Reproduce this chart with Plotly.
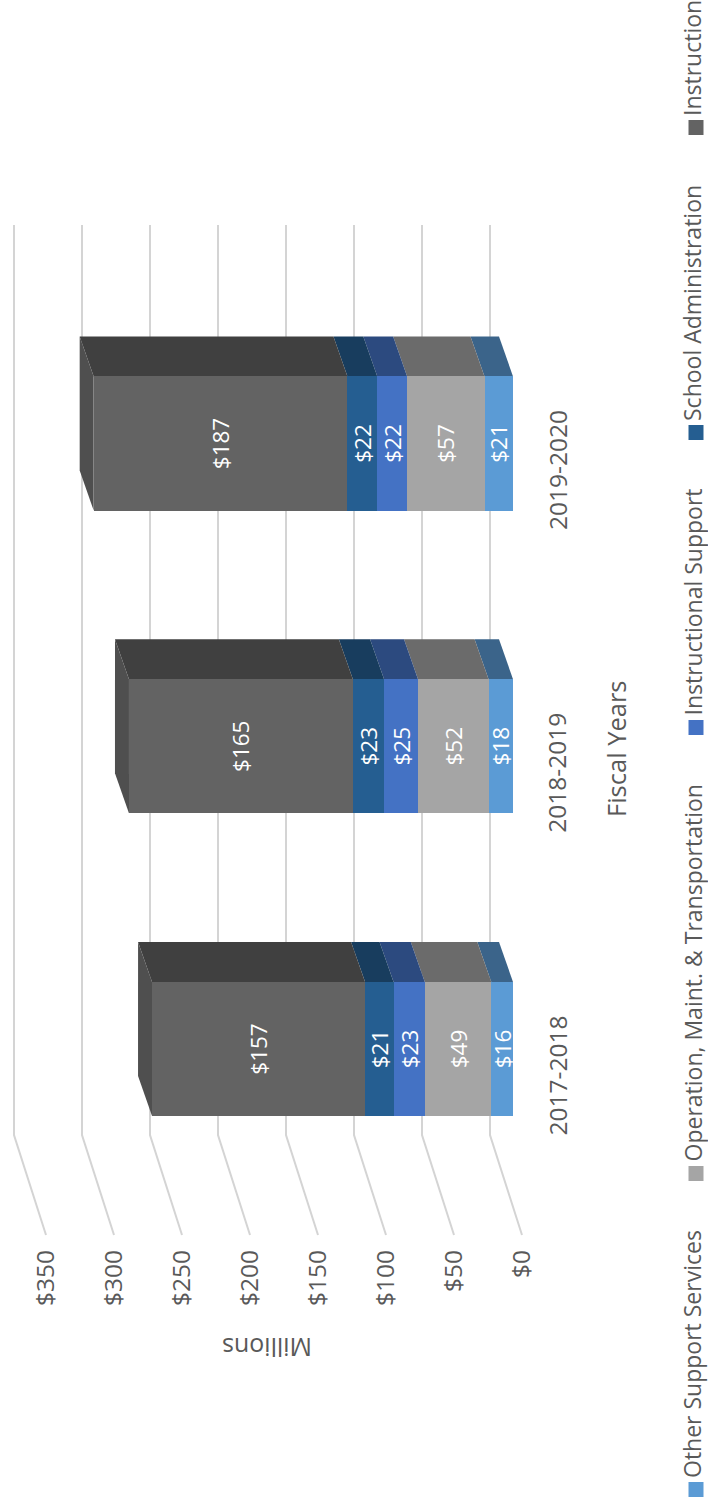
import plotly.graph_objects as go

# ---- data -------------------------------------------------------------
years = ["2017-2018", "2018-2019", "2019-2020"]

other_support = [16, 18, 21]
operation = [49, 52, 57]
instructional_support = [23, 25, 22]
school_admin = [21, 23, 22]
instruction = [157, 165, 187]

# stacking order, from the $0 end outward
series_names = [
    "Other Support Services",
    "Operation, Maint. & Transportation",
    "Instructional Support",
    "School Administration",
    "Instruction",
]
series_values = [other_support, operation, instructional_support, school_admin, instruction]
series_colors = ["#5B9BD5", "#A5A5A5", "#4472C4", "#255E91", "#636363"]

value_ticks = [0, 50, 100, 150, 200, 250, 300, 350]
value_tick_text = ["$0", "$50", "$100", "$150", "$200", "$250", "$300", "$350"]

# ---- page geometry (pixels) --------------------------------------------
W, H = 708, 1503
FONT = "Open Sans"
TEXT_GREY = "#595959"

# bar axis: $0 at x=513 px, 1.357 px per $
BAR_X0, BAR_SCALE = 513.0, 1.357
# category axis: first category centred at y=1049 px, 302.75 px apart
CAT_Y0, CAT_STEP = 1049.0, 302.75
BAR_WIDTH = 0.443
# depth offset of the bar blocks (px: left, up)
DEPTH_PX = (14.0, 40.0)

# wall / value-label axis: front edge of the floor, $0 at x=522 px
WALL_X0, WALL_SCALE = 522.0, 1.36
WALL_TOP, WALL_CORNER, WALL_FRONT = 225.0, 1135.0, 1235.0
WALL_DEPTH_PX = 32.0

# legend placement: pixel y of the bottom of each swatch
legend_swatch_bottom = [1497, 1181, 735, 440, 135]
LEGEND_X = 692
SWATCH = 15


def py(p):
    """pixel y -> paper y"""
    return 1 - p / H


def px(p):
    """pixel x -> paper x"""
    return p / W


def shade(hex_color, f):
    h = hex_color.lstrip("#")
    r, g, b = (int(h[i:i + 2], 16) for i in (0, 2, 4))
    return "#{:02X}{:02X}{:02X}".format(int(r * f), int(g * f), int(b * f))


def path(points):
    return "M " + " L ".join(f"{x:.4f},{y:.4f}" for x, y in points) + " Z"


fig = go.Figure()

# ---- front faces of the stacked bars ----------------------------------
for name, vals, color in zip(series_names, series_values, series_colors):
    fig.add_trace(go.Bar(
        x=vals, y=years, orientation="h", name=name,
        marker=dict(color=color, line=dict(width=0)),
        text=[f"${v}" for v in vals],
        textposition="inside", insidetextanchor="middle", textangle=-90,
        constraintext="none",
        textfont=dict(family=FONT, size=22.5, color="white"),
        hoverinfo="skip", showlegend=False,
        xaxis="x", yaxis="y",
    ))

shapes = []

# ---- wall gridlines (back wall + side wall) ---------------------------
wall_dx = WALL_DEPTH_PX / WALL_SCALE
for v in value_ticks:
    shapes.append(dict(
        type="path", xref="x2", yref="paper", layer="below",
        path=(f"M {v + wall_dx:.4f},{py(WALL_TOP):.5f} "
              f"L {v + wall_dx:.4f},{py(WALL_CORNER):.5f} "
              f"L {v:.4f},{py(WALL_FRONT):.5f}"),
        line=dict(color="#D4D4D4", width=2),
    ))

# ---- depth faces of the bar blocks ------------------------------------
dx = DEPTH_PX[0] / BAR_SCALE
dy = DEPTH_PX[1] / CAT_STEP
for i, _ in enumerate(years):
    y_top = i + BAR_WIDTH / 2
    y_bot = i - BAR_WIDTH / 2
    base = 0
    for k, (vals, color) in enumerate(zip(series_values, series_colors)):
        c0, c1 = base, base + vals[i]
        shapes.append(dict(
            type="path", xref="x", yref="y", layer="below",
            path=path([(c0, y_top), (c1, y_top), (c1 + dx, y_top + dy), (c0 + dx, y_top + dy)]),
            fillcolor=shade(color, 0.65), line=dict(width=0),
        ))
        base = c1
    top_color = series_colors[-1]
    shapes.append(dict(
        type="path", xref="x", yref="y", layer="below",
        path=path([(base, y_bot), (base, y_top), (base + dx, y_top + dy), (base + dx, y_bot + dy)]),
        fillcolor=shade(top_color, 0.8), line=dict(width=0),
    ))

# ---- legend swatches --------------------------------------------------
annotations = []
for name, color, sb in zip(series_names, series_colors, legend_swatch_bottom):
    shapes.append(dict(
        type="rect", xref="paper", yref="paper", layer="above",
        x0=px(LEGEND_X + 4 - SWATCH / 2), x1=px(LEGEND_X + 4 + SWATCH / 2),
        y0=py(sb), y1=py(sb - SWATCH),
        fillcolor=color, line=dict(width=0),
    ))
    annotations.append(dict(
        text=name, xref="paper", yref="paper",
        x=px(LEGEND_X), y=py(sb - SWATCH - 2),
        xanchor="center", yanchor="bottom", textangle=-90, showarrow=False,
        font=dict(family=FONT, size=23, color=TEXT_GREY),
    ))

# ---- category labels and axis titles ---------------------------------
label_shift = 26.5 / CAT_STEP
for i, yr in enumerate(years):
    annotations.append(dict(
        text=yr, xref="paper", yref="y", x=px(557), y=i - label_shift,
        xanchor="center", yanchor="middle", textangle=-90, showarrow=False,
        font=dict(family=FONT, size=24.5, color=TEXT_GREY),
    ))

annotations.append(dict(
    text="Fiscal Years", xref="paper", yref="paper", x=px(616), y=py(749),
    xanchor="center", yanchor="middle", textangle=-90, showarrow=False,
    font=dict(family=FONT, size=25.5, color=TEXT_GREY),
))
annotations.append(dict(
    text="Millions", xref="paper", yref="paper", x=px(267), y=py(1348),
    xanchor="center", yanchor="middle", textangle=180, showarrow=False,
    font=dict(family=FONT, size=25, color=TEXT_GREY),
))

fig.update_layout(
    width=W, height=H,
    margin=dict(l=0, r=0, t=0, b=0),
    paper_bgcolor="white", plot_bgcolor="white",
    barmode="stack", bargap=1 - BAR_WIDTH,
    showlegend=False,
    xaxis=dict(
        domain=[0, 1],
        range=[BAR_X0 / BAR_SCALE, (BAR_X0 - W) / BAR_SCALE],
        showgrid=False, zeroline=False, showline=False, showticklabels=False, ticks="",
    ),
    xaxis2=dict(
        overlaying="x", anchor="free", position=py(1244), side="bottom",
        range=[WALL_X0 / WALL_SCALE, (WALL_X0 - W) / WALL_SCALE],
        tickmode="array", tickvals=value_ticks, ticktext=value_tick_text,
        tickangle=-90, ticks="",
        tickfont=dict(family=FONT, size=24.5, color=TEXT_GREY),
        showgrid=False, zeroline=False, showline=False,
    ),
    yaxis=dict(
        domain=[0, 1], type="category", categoryorder="array", categoryarray=years,
        range=[(CAT_Y0 - H) / CAT_STEP, CAT_Y0 / CAT_STEP],
        showgrid=False, zeroline=False, showline=False, showticklabels=False, ticks="",
    ),
    shapes=shapes,
    annotations=annotations,
)

fig.write_html("out.html")
